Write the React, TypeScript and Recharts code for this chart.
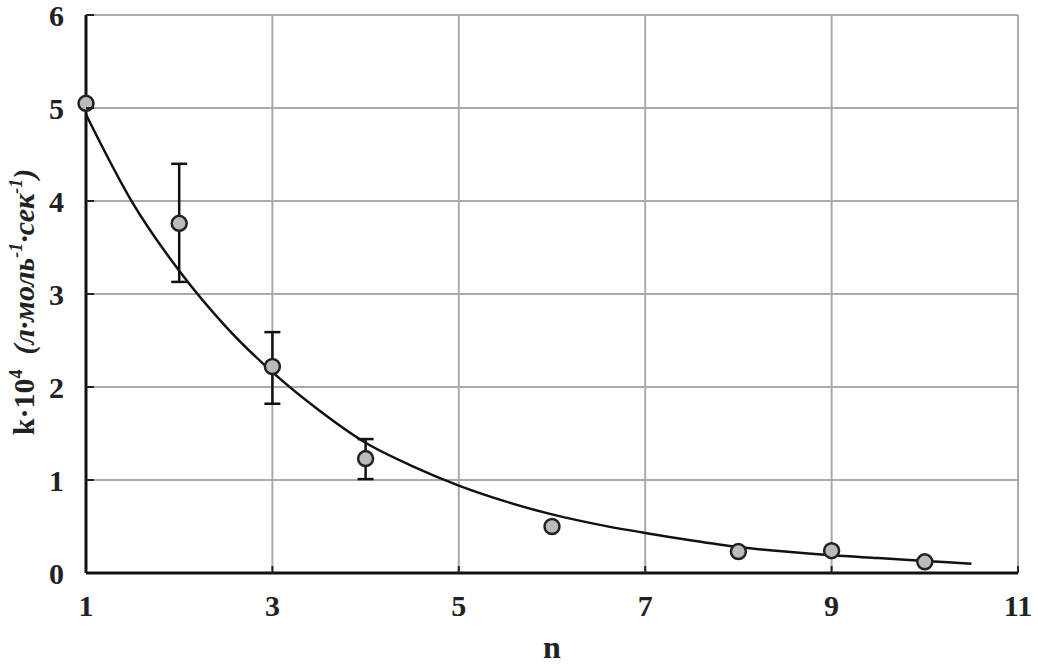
import { CartesianGrid, ComposedChart, ErrorBar, Line, Scatter, XAxis, YAxis } from "recharts";

// measured points k·10^4 vs n
const nValues = [1, 2, 3, 4, 6, 8, 9, 10];
const kValues = [5.05, 3.76, 2.22, 1.23, 0.5, 0.23, 0.24, 0.12];
const errLow = [null, 0.63, 0.4, 0.22, null, null, null, null];
const errHigh = [null, 0.64, 0.37, 0.21, null, null, null, null];

// fitted curve
const fitN = [1, 1.5, 2, 2.5, 3, 3.5, 4, 4.5, 5, 5.5, 6, 6.5, 7, 7.5, 8, 8.5, 9, 9.5, 10, 10.5];
const fitK = [4.93, 3.98, 3.25, 2.65, 2.16, 1.75, 1.4, 1.15, 0.94, 0.77, 0.63, 0.52, 0.43, 0.35, 0.28, 0.23, 0.19, 0.16, 0.13, 0.1];

const xTicks = [1, 3, 5, 7, 9, 11];
const yTicks = [0, 1, 2, 3, 4, 5, 6];

const points = nValues.map((n, i) => ({
  n,
  k: kValues[i],
  err: errLow[i] == null ? null : [errLow[i], errHigh[i]],
}));

const fit = fitN.map((n, i) => ({ n, k: fitK[i] }));

const font = "'Liberation Serif', 'Times New Roman', serif";

function XTick({ x, y, payload }: any) {
  return (
    <g>
      {payload.value !== 1 && <line x1={x} y1={y} x2={x} y2={y - 7} stroke="#222" strokeWidth={2} />}
      <text x={x} y={y + 43} textAnchor="middle" fontFamily={font} fontWeight="bold" fontSize={30} fill="#222">
        {payload.value}
      </text>
    </g>
  );
}

function YTick({ x, y, payload }: any) {
  return (
    <g>
      {payload.value !== 0 && <line x1={x} y1={y} x2={x + 8} y2={y} stroke="#222" strokeWidth={2} />}
      <text x={x - 22} y={y} dy="0.35em" textAnchor="end" fontFamily={font} fontWeight="bold" fontSize={30} fill="#222">
        {payload.value}
      </text>
    </g>
  );
}

function YLabel({ viewBox }: any) {
  const cx = viewBox.x + 34;
  const cy = viewBox.y + viewBox.height / 2 + 8;
  return (
    <text
      x={cx}
      y={cy}
      transform={`rotate(-90, ${cx}, ${cy})`}
      textAnchor="middle"
      fontFamily={font}
      fontWeight="bold"
      fontSize={30}
      fill="#222"
    >
      k·10
      <tspan fontSize={18} dy={-12}>4</tspan>
      <tspan dy={12} xmlSpace="preserve">{"  "}</tspan>
      <tspan fontStyle="italic">(л·моль</tspan>
      <tspan fontStyle="italic" fontSize={18} dy={-12}>-1</tspan>
      <tspan fontStyle="italic" dy={12}>·сек</tspan>
      <tspan fontStyle="italic" fontSize={18} dy={-12}>-1</tspan>
      <tspan fontStyle="italic" dy={12}>)</tspan>
    </text>
  );
}

export default function App() {
  return (
    <div style={{ position: "absolute", left: 0, top: 0, background: "#fff" }}>
      <ComposedChart width={1038} height={666} margin={{ top: 15, right: 20, left: 0, bottom: 0 }}>
        <CartesianGrid stroke="#aaa" strokeWidth={2} />
        <XAxis
          type="number"
          dataKey="n"
          domain={[1, 11]}
          ticks={xTicks}
          height={93}
          tickSize={0}
          tickMargin={0}
          tickLine={false}
          tick={<XTick />}
          axisLine={{ stroke: "#111", strokeWidth: 3 }}
          label={{ value: "n", position: "insideBottom", offset: 8, fontFamily: font, fontWeight: "bold", fontSize: 32, fill: "#222" }}
        />
        <YAxis
          type="number"
          dataKey="k"
          domain={[0, 6]}
          ticks={yTicks}
          width={86}
          tickSize={0}
          tickMargin={0}
          tickLine={false}
          tick={<YTick />}
          axisLine={{ stroke: "#111", strokeWidth: 3 }}
          label={<YLabel />}
        />
        <Line
          data={fit}
          dataKey="k"
          type="monotone"
          stroke="#111"
          strokeWidth={2.5}
          dot={false}
          activeDot={false}
          isAnimationActive={false}
        />
        <Scatter
          data={points}
          dataKey="k"
          fill="#bbb"
          stroke="#222"
          strokeWidth={2.5}
          shape={(p: any) => <circle cx={p.cx} cy={p.cy} r={7.5} fill="#bbb" stroke="#222" strokeWidth={2.5} />}
          isAnimationActive={false}
        >
          <ErrorBar dataKey="err" direction="y" width={8} stroke="#111" strokeWidth={2.5} />
        </Scatter>
      </ComposedChart>
    </div>
  );
}
